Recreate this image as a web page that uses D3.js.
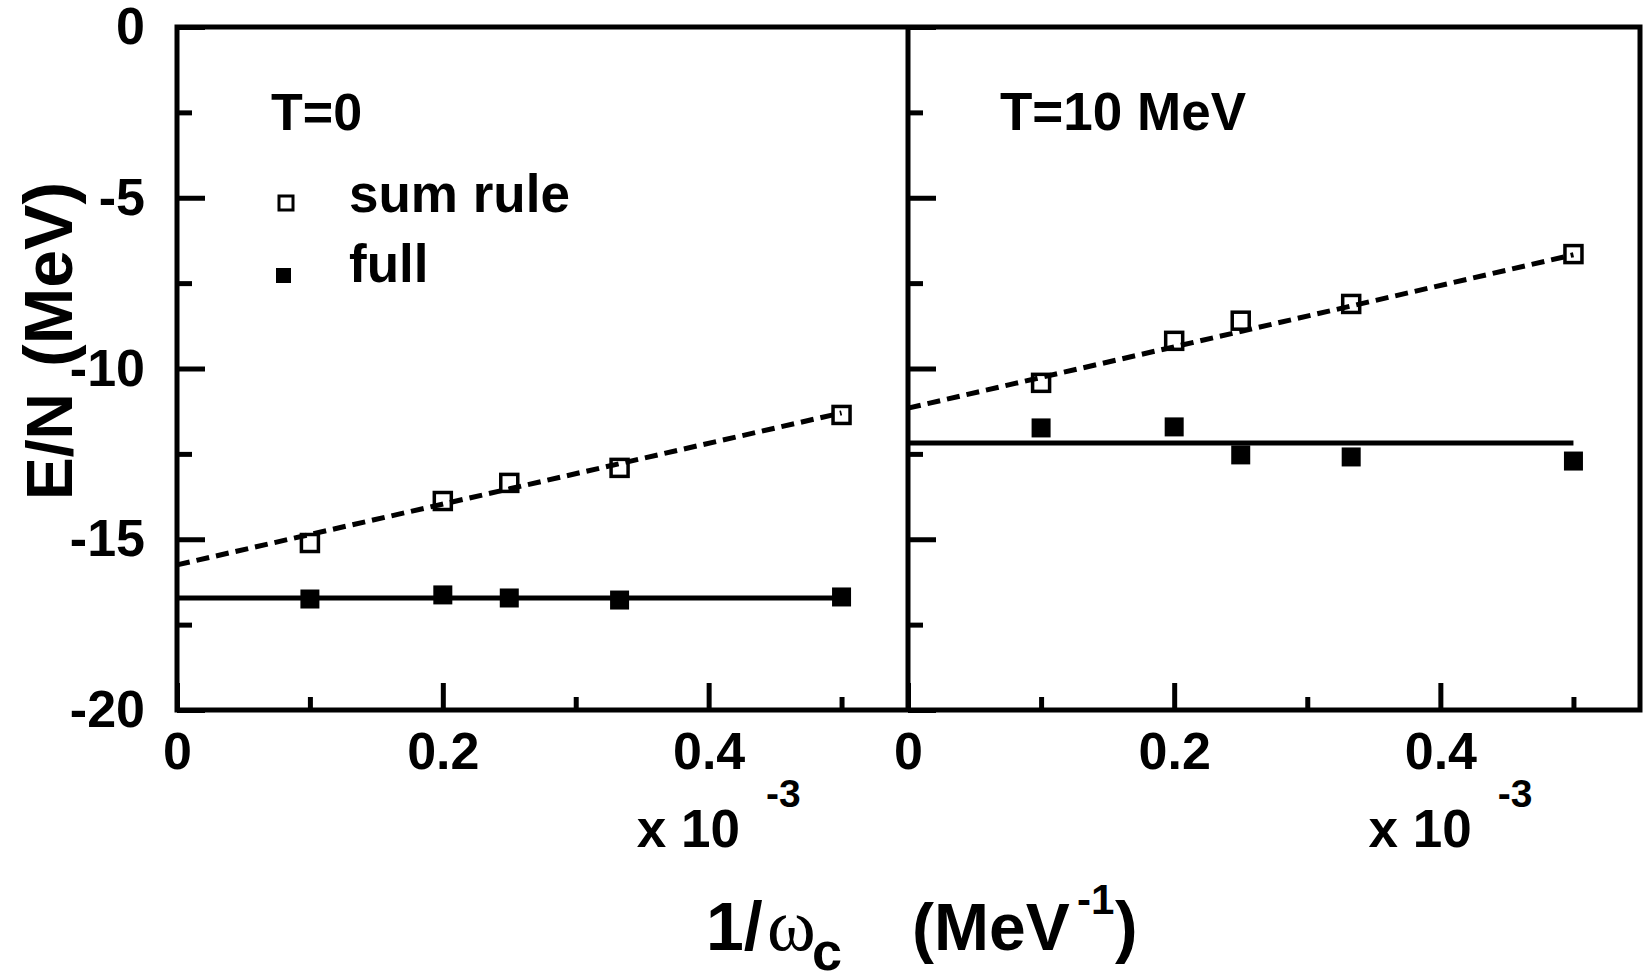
<!DOCTYPE html>
<html>
<head>
<meta charset="utf-8">
<script src="https://cdn.jsdelivr.net/npm/d3@7"></script>
<style>
  body { margin: 0; background: #fff; }
  text { font-family: "Liberation Sans", Arial, sans-serif; font-weight: bold; fill: #000; }
  .serif { font-family: "Liberation Serif", "Times New Roman", serif; font-weight: normal; }
</style>
</head>
<body>
<div id="chart"></div>
<script>
// data
const xVals = [0.1, 0.2, 0.25, 0.333, 0.5]
const sumRuleT0 = [-15.11, -13.88, -13.35, -12.91, -11.36]
const fullT0 = [-16.75, -16.63, -16.72, -16.78, -16.69]
const sumRuleT10 = [-10.42, -9.19, -8.60, -8.11, -6.65]
const fullT10 = [-11.74, -11.71, -12.53, -12.59, -12.71]
// fitted lines (end points)
const fitSumT0 = [[0, -15.75], [0.5, -11.30]]
const fitFullT0 = [[0, -16.72], [0.5, -16.72]]
const fitSumT10 = [[0, -11.16], [0.5, -6.67]]
const fitFullT10 = [[0, -12.18], [0.5, -12.18]]
// ticks
const xMajor = [0, 0.2, 0.4]
const xMinor = [0.1, 0.3, 0.5]
const yMajor = [0, -5, -10, -15, -20]
const yMinor = [-2.5, -7.5, -12.5, -17.5]

const W = 1646, H = 974
const yTop = 27, yBottom = 710
const lw = 5

const svg = d3.select("#chart").append("svg")
  .attr("width", W).attr("height", H)

const y = d3.scaleLinear().domain([-20, 0]).range([yBottom, yTop])
const xL = d3.scaleLinear().domain([0, 0.55]).range([177, 908])
const xR = d3.scaleLinear().domain([0, 0.55]).range([908, 1640])

function styleAxis(g) {
  g.attr("font-size", null).attr("font-family", null)
  g.select(".domain").remove()
  g.selectAll(".tick line").attr("stroke", "#000").attr("stroke-width", lw)
  g.selectAll(".tick text").style("font-size", "52px")
}

function panel(x, sumVals, fullVals, fitSum, fitFull, withLabels) {
  // x axis, ticks pointing up
  svg.append("g").attr("transform", "translate(0," + yBottom + ")")
    .call(d3.axisBottom(x).tickValues(xMajor).tickSize(-27).tickPadding(22)
      .tickFormat(d => d === 0 ? "0" : d.toFixed(1)))
    .call(styleAxis)
  svg.append("g").attr("transform", "translate(0," + yBottom + ")")
    .call(d3.axisBottom(x).tickValues(xMinor).tickSize(-13).tickFormat(""))
    .call(styleAxis)

  // y axis on the left edge of the panel, ticks pointing right
  const x0 = x(0)
  svg.append("g").attr("transform", "translate(" + x0 + ",0)")
    .call(d3.axisLeft(y).tickValues(yMajor).tickSize(-28).tickPadding(32)
      .tickFormat(d => withLabels ? String(d) : ""))
    .call(styleAxis)
  svg.append("g").attr("transform", "translate(" + x0 + ",0)")
    .call(d3.axisLeft(y).tickValues(yMinor).tickSize(-15).tickFormat(""))
    .call(styleAxis)

  const line = d3.line().x(d => x(d[0])).y(d => y(d[1]))
  svg.append("path").attr("d", line(fitSum))
    .attr("fill", "none").attr("stroke", "#000").attr("stroke-width", lw)
    .attr("stroke-dasharray", "13,7")
  svg.append("path").attr("d", line(fitFull))
    .attr("fill", "none").attr("stroke", "#000").attr("stroke-width", lw)

  const open = 17, filled = 19
  svg.append("g").selectAll("rect")
    .data(xVals.map((v, i) => [v, sumVals[i]]))
    .join("rect")
    .attr("x", d => x(d[0]) - open / 2).attr("y", d => y(d[1]) - open / 2)
    .attr("width", open).attr("height", open)
    .attr("fill", "none").attr("stroke", "#000").attr("stroke-width", 3.5)
  svg.append("g").selectAll("rect")
    .data(xVals.map((v, i) => [v, fullVals[i]]))
    .join("rect")
    .attr("x", d => x(d[0]) - filled / 2).attr("y", d => y(d[1]) - filled / 2)
    .attr("width", filled).attr("height", filled)
    .attr("fill", "#000")

  // x 10^-3
  const t = svg.append("text").attr("x", x(0.346)).attr("y", 847).style("font-size", "53px")
  t.append("tspan").text("x 10")
  t.append("tspan").attr("dx", 26).attr("dy", -40).style("font-size", "39px").text("-3")
}

panel(xL, sumRuleT0, fullT0, fitSumT0, fitFullT0, true)
panel(xR, sumRuleT10, fullT10, fitSumT10, fitFullT10, false)

// frame
svg.append("rect").attr("x", 177).attr("y", yTop)
  .attr("width", 1640 - 177).attr("height", yBottom - yTop)
  .attr("fill", "none").attr("stroke", "#000").attr("stroke-width", lw)
svg.append("line").attr("x1", 908).attr("x2", 908).attr("y1", yTop).attr("y2", yBottom)
  .attr("stroke", "#000").attr("stroke-width", lw)

// panel labels and legend
svg.append("text").attr("x", 271).attr("y", 130).style("font-size", "52px").text("T=0")
svg.append("text").attr("x", 1000).attr("y", 130).style("font-size", "53px").text("T=10 MeV")
svg.append("rect").attr("x", 279).attr("y", 196).attr("width", 14).attr("height", 14)
  .attr("fill", "none").attr("stroke", "#000").attr("stroke-width", 3)
svg.append("rect").attr("x", 276).attr("y", 268).attr("width", 15).attr("height", 15)
  .attr("fill", "#000")
svg.append("text").attr("x", 349).attr("y", 212).style("font-size", "53px").text("sum rule")
svg.append("text").attr("x", 349).attr("y", 282).style("font-size", "53px").text("full")

// y title
const yt = svg.append("text").attr("transform", "translate(72,500) rotate(-90)")
  .style("font-size", "68px")
yt.append("tspan").style("font-size", "64px").text("E/N")
yt.append("tspan").attr("x", 133).text("(MeV)")

// x title
svg.append("text").attr("x", 706).attr("y", 950).style("font-size", "68px").text("1/")
svg.append("text").attr("class", "serif").attr("x", 767).attr("y", 950).style("font-size", "74px").text("ω")
svg.append("text").attr("x", 812).attr("y", 970).style("font-size", "54px").text("c")
svg.append("text").attr("x", 912).attr("y", 950).style("font-size", "66px").text("(MeV")
svg.append("text").attr("x", 1077).attr("y", 914).style("font-size", "42px").text("-1")
svg.append("text").attr("x", 1115).attr("y", 950).style("font-size", "68px").text(")")
</script>
</body>
</html>
